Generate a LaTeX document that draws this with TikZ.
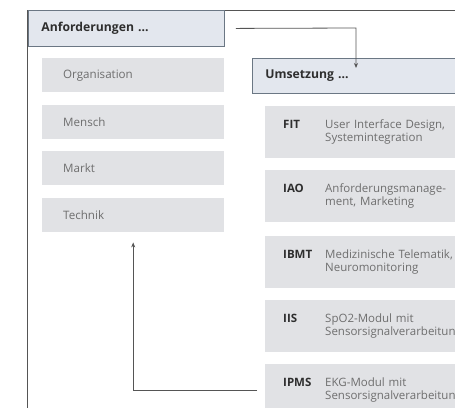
\documentclass[tikz,border=0pt]{standalone}
\usepackage{fontspec}
\setmainfont{Open Sans}
\usetikzlibrary{arrows.meta}
\definecolor{framec}{HTML}{555555}
\definecolor{headfill}{HTML}{E3E7EE}
\definecolor{headline}{HTML}{6B7784}
\definecolor{boxfill}{HTML}{E1E2E5}
\definecolor{greytext}{HTML}{6E6E6E}
\definecolor{darktext}{HTML}{2E2E2E}
\begin{document}
\begin{tikzpicture}[x=1pt,y=-1pt,
  header/.style={draw=headline, line width=0.9pt, fill=headfill, anchor=north west,
    inner xsep=13pt, align=left, font=\fontsize{12.2}{13}\selectfont\bfseries, text=darktext},
  leftbox/.style={fill=boxfill, anchor=north west, minimum width=182pt, minimum height=34pt,
    text width=140pt, inner xsep=21pt, align=left, font=\fontsize{11.6}{12}\selectfont, text=greytext},
  rightbox/.style={fill=boxfill, anchor=north west, minimum width=210pt, minimum height=52pt,
    text width=180pt, inner xsep=18pt, align=left, font=\fontsize{11.5}{10.8}\selectfont, text=greytext},
  arr/.style={draw=framec, line width=0.8pt, -{Stealth[length=5pt,width=4pt]}}]
\clip (0,0) rectangle (455,407);
\fill[white] (0,0) rectangle (455,407);
% outer frame
\draw[framec, line width=0.9pt] (27,420) -- (27,10) -- (470,10);
% left column
\node[header, minimum width=196pt, minimum height=36pt, text width=170pt] (anf) at (28,10) {Anforderungen ...};
\node[leftbox] (org) at (42,58) {Organisation};
\node[leftbox] (men) at (42,105) {Mensch};
\node[leftbox] (mar) at (42,151) {Markt};
\node[leftbox] (tech) at (42,198) {Technik};
% right column
\node[header, minimum width=230pt, minimum height=35pt, text width=204pt] (ums) at (252,58) {Umsetzung ...};
\newcommand{\rowtext}[2]{\parbox[t]{42pt}{\leavevmode\strut\textcolor{darktext}{\bfseries #1}}\parbox[t]{140pt}{\leavevmode\strut #2}}
\node[rightbox] (fit) at (265,106) {\rowtext{FIT}{User Interface Design,\\Systemintegration}};
\node[rightbox] (iao) at (265,170) {\rowtext{IAO}{Anforderungsmanage-\\ment, Marketing}};
\node[rightbox] (ibmt) at (265,236) {\rowtext{IBMT}{Medizinische Telematik,\\Neuromonitoring}};
\node[rightbox] (iis) at (265,300) {\rowtext{IIS}{SpO2-Modul mit\\Sensorsignalverarbeitung}};
\node[rightbox] (ipms) at (265,364) {\rowtext{IPMS}{EKG-Modul mit\\Sensorsignalverarbeitung}};
% connectors
\coordinate (turn) at (356,28);
\draw[arr, shorten <=11pt] (anf.east) -- (turn) -- ([yshift=-10pt]turn |- ums.north);
\draw[arr, shorten <=8pt, shorten >=10pt] (ipms.west) -| (tech.south);
\end{tikzpicture}
\end{document}
